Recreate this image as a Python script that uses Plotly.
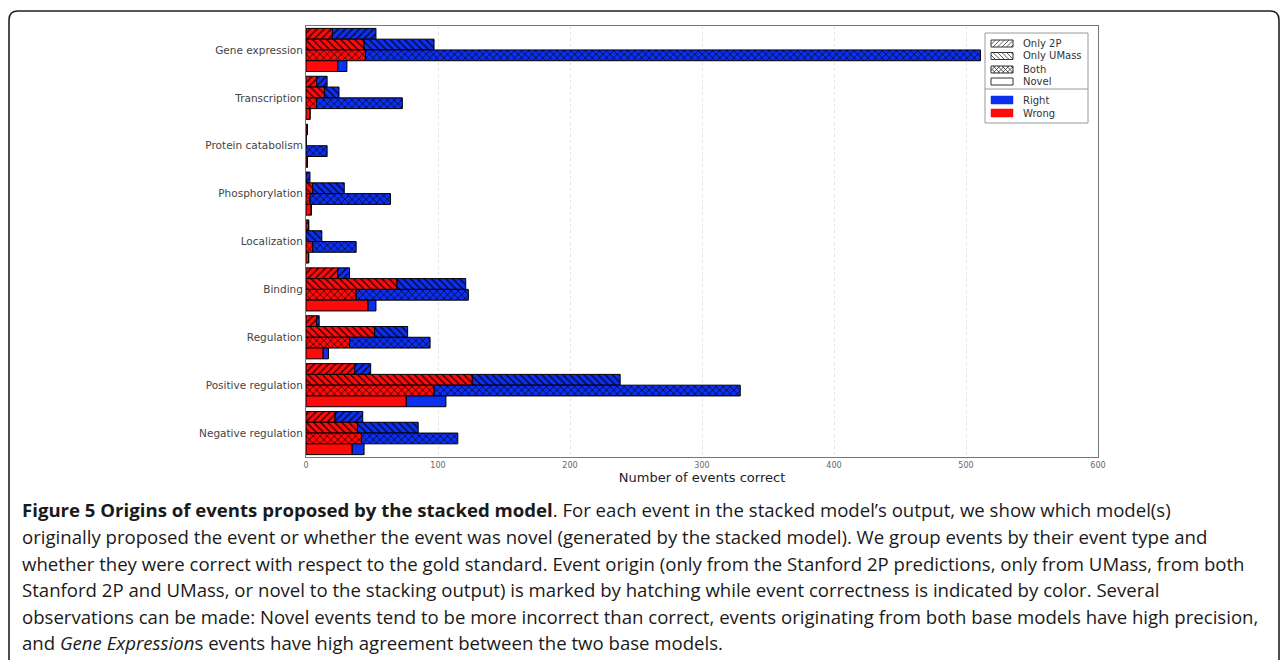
import plotly.graph_objects as go

# Event types, listed top to bottom
CATEGORIES = [
    "Gene expression", "Transcription", "Protein catabolism", "Phosphorylation",
    "Localization", "Binding", "Regulation", "Positive regulation",
    "Negative regulation",
]

# Event origins (one bar per origin inside each event type)
ORIGINS = ["Only 2P", "Only UMass", "Both", "Novel"]

# Incorrect events (red part of each bar)
WRONG_2P = [20, 8, 1, 0, 2, 24, 8, 37, 22]
WRONG_UMASS = [44, 14, 0, 5, 0, 69, 52, 126, 39]
WRONG_BOTH = [45, 8, 0, 3, 5, 38, 33, 97, 42]
WRONG_NOVEL = [24, 3, 1, 4, 2, 47, 13, 76, 35]

# Correct events (blue part, stacked after the red part)
RIGHT_2P = [33, 8, 0, 3, 0, 9, 2, 12, 21]
RIGHT_UMASS = [53, 11, 0, 24, 12, 52, 25, 112, 46]
RIGHT_BOTH = [466, 65, 16, 61, 33, 85, 61, 232, 73]
RIGHT_NOVEL = [7, 0, 0, 0, 0, 6, 4, 30, 9]

X_TICKS = [0, 100, 200, 300, 400, 500, 600]

CAPTION = [
    "<b>Figure 5 Origins of events proposed by the stacked model</b>. For each event in the stacked model\u2019s output, we show which model(s)",
    "originally proposed the event or whether the event was novel (generated by the stacked model). We group events by their event type and",
    "whether they were correct with respect to the gold standard. Event origin (only from the Stanford 2P predictions, only from UMass, from both",
    "Stanford 2P and UMass, or novel to the stacking output) is marked by hatching while event correctness is indicated by color. Several",
    "observations can be made: Novel events tend to be more incorrect than correct, events originating from both base models have high precision,",
    "and <i>Gene Expression</i>s events have high agreement between the two base models.",
]

WRONG = [WRONG_2P, WRONG_UMASS, WRONG_BOTH, WRONG_NOVEL]
RIGHT = [RIGHT_2P, RIGHT_UMASS, RIGHT_BOTH, RIGHT_NOVEL]
HATCH = ["/", "\\", "x", ""]

RED = "#ff0a0a"
BLUE = "#0d2ff0"

# page geometry (pixels)
W, H = 1282, 660
L, R, T, B = 306, 1098, 26, 457


def fx(px):
    return (px - L) / (R - L)


def fy(py):
    return (B - py) / (B - T)


fig = go.Figure()

for k, origin in enumerate(ORIGINS):
    pat = dict(shape=HATCH[k], fgcolor="black", fgopacity=0.85, size=5,
               solidity=0.28, fillmode="overlay")
    fig.add_trace(go.Bar(
        y=CATEGORIES, x=WRONG[k], orientation="h", offsetgroup=origin,
        name=origin + " (wrong)", showlegend=False,
        marker=dict(color=RED, line=dict(color="black", width=1), pattern=pat),
    ))
    fig.add_trace(go.Bar(
        y=CATEGORIES, x=RIGHT[k], base=WRONG[k], orientation="h",
        offsetgroup=origin, name=origin + " (right)", showlegend=False,
        marker=dict(color=BLUE, line=dict(color="black", width=1), pattern=pat),
    ))

shapes = []
annotations = []

# rounded outer frame (open at the bottom edge of the page)
rad = 9
x0f, x1f, y0f, y1f = 9, 1279, 11, 670
frame = (
    f"M {fx(x0f)} {fy(y1f)} L {fx(x0f)} {fy(y0f + rad)} "
    f"Q {fx(x0f)} {fy(y0f)} {fx(x0f + rad)} {fy(y0f)} "
    f"L {fx(x1f - rad)} {fy(y0f)} "
    f"Q {fx(x1f)} {fy(y0f)} {fx(x1f)} {fy(y0f + rad)} "
    f"L {fx(x1f)} {fy(y1f)}"
)
shapes.append(dict(type="path", path=frame, xref="paper", yref="paper",
                   line=dict(color="#222", width=1.6), layer="above"))

# legend box
lx0, lx1, ly0, ly1 = 985, 1088, 33, 123
shapes.append(dict(type="rect", xref="paper", yref="paper",
                   x0=fx(lx0), x1=fx(lx1), y0=fy(ly1), y1=fy(ly0),
                   fillcolor="white", line=dict(color="#9a9a9a", width=1),
                   layer="above"))
shapes.append(dict(type="line", xref="paper", yref="paper",
                   x0=fx(lx0), x1=fx(lx1), y0=fy(89), y1=fy(89),
                   line=dict(color="#9a9a9a", width=1), layer="above"))

sw0, sw1 = 991, 1013


def hatch_lines(kind, xa, xb, ya, yb, step=4.5):
    """Diagonal strokes clipped to the swatch rectangle (pixel coords)."""
    if not kind:
        return []
    dirs = ["/", "\\"] if kind == "x" else [kind]
    segs = []
    h = yb - ya
    c = xa - h
    while c < xb:
        for d in dirs:
            sx, ex = c, c + h
            if d == "/":
                sy, ey = yb, ya
                slope = -1
            else:
                sy, ey = ya, yb
                slope = 1
            if sx < xa:
                sy += slope * (xa - sx)
                sx = xa
            if ex > xb:
                ey -= slope * (ex - xb)
                ex = xb
            if ex - sx > 0.5:
                segs.append((sx, sy, ex, ey))
        c += step
    return segs


legend_font = dict(family="DejaVu Sans", size=10, color="#333")

rows = [(43.5, "Only 2P", "/"), (56, "Only UMass", "\\"), (69.5, "Both", "x"),
        (81.5, "Novel", "")]
for yc, label, kind in rows:
    ya, yb = yc - 3.5, yc + 3.5
    shapes.append(dict(type="rect", xref="paper", yref="paper",
                       x0=fx(sw0), x1=fx(sw1), y0=fy(yb), y1=fy(ya),
                       fillcolor="white", line=dict(color="#333", width=1),
                       layer="above"))
    for sx, sy, ex, ey in hatch_lines(kind, sw0, sw1, ya, yb):
        shapes.append(dict(type="line", xref="paper", yref="paper",
                           x0=fx(sx), y0=fy(sy), x1=fx(ex), y1=fy(ey),
                           line=dict(color="#333", width=0.8), layer="above"))
    annotations.append(dict(text=label, x=fx(1021), y=fy(yc), xref="paper",
                            yref="paper", xanchor="left", yanchor="middle",
                            showarrow=False, font=legend_font))

for yc, label, col in [(100, "Right", BLUE), (113, "Wrong", RED)]:
    shapes.append(dict(type="rect", xref="paper", yref="paper",
                       x0=fx(sw0), x1=fx(sw1), y0=fy(yc + 4), y1=fy(yc - 4),
                       fillcolor=col, line=dict(color=col, width=0.5),
                       layer="above"))
    annotations.append(dict(text=label, x=fx(1021), y=fy(yc), xref="paper",
                            yref="paper", xanchor="left", yanchor="middle",
                            showarrow=False, font=legend_font))

# caption
cap_y = [509, 536.5, 563, 589.5, 616, 642.5]
for line, yc in zip(CAPTION, cap_y):
    annotations.append(dict(text=line, x=fx(20), y=fy(yc), xref="paper",
                            yref="paper", xanchor="left", yanchor="middle",
                            showarrow=False,
                            font=dict(family="Open Sans", size=18.6, color="#1a1a1a")))

fig.update_layout(
    width=W, height=H,
    margin=dict(l=L, r=W - R, t=T, b=H - B, pad=0),
    paper_bgcolor="white", plot_bgcolor="white",
    barmode="group", bargap=0.1, bargroupgap=0,
    showlegend=False,
    shapes=shapes, annotations=annotations,
    xaxis=dict(
        range=[0, 600], tickvals=X_TICKS, ticks="",
        tickfont=dict(family="DejaVu Sans", size=8, color="#666"),
        showgrid=True, gridcolor="#e4e4e4", griddash="dot", gridwidth=1,
        showline=True, linecolor="#777", linewidth=1, mirror=True,
        zeroline=False,
        title=dict(text="Number of events correct", standoff=4,
                   font=dict(family="DejaVu Sans", size=13, color="#222")),
    ),
    yaxis=dict(
        type="category", categoryorder="array", categoryarray=CATEGORIES,
        range=[len(CATEGORIES) - 0.5, -0.5], ticks="",
        tickfont=dict(family="DejaVu Sans", size=10.5, color="#444"),
        showgrid=False, showline=True, linecolor="#777", linewidth=1,
        mirror=True, zeroline=False,
    ),
)

fig.write_html("out.html")
